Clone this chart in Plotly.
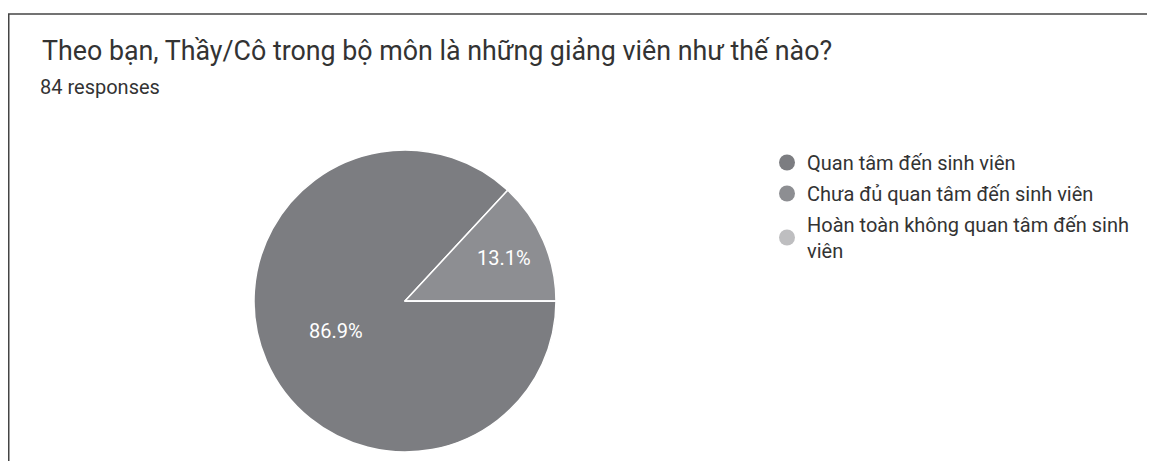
import plotly.graph_objects as go

labels = ["Quan tâm đến sinh viên",
          "Chưa đủ quan tâm đến sinh viên",
          "Hoàn toàn không quan tâm đến sinh<br>viên"]
values = [73, 11, 0]
colors = ["#7c7d81", "#8d8e92", "#bebec0"]
title_text = "Theo bạn, Thầy/Cô trong bộ môn là những giảng viên như thế nào?"
subtitle_text = "84 responses"

# page body has an 8px margin; figure coordinates are page coordinates minus 8
W, H = 1147, 453
FONT = "Roboto, Arial, sans-serif"

def px(x):
    return x / W

def py(y):
    return 1 - y / H

fig = go.Figure()
fig.add_trace(go.Pie(
    labels=labels, values=values, sort=False, direction="clockwise", rotation=90,
    marker=dict(colors=colors, line=dict(color="white", width=1.5)),
    texttemplate="%{percent:.1%}",
    textposition=["inside", "inside", "none"],
    insidetextorientation="horizontal",
    textfont=dict(family=FONT, size=20, color="white"),
    showlegend=False, hoverinfo="label+percent",
    domain=dict(x=[px(246), px(548)], y=[py(444), py(142)]),
))

for i, (lab, col) in enumerate(zip(labels, colors)):
    fig.add_trace(go.Scatter(
        x=[None], y=[None], mode="markers", name=lab, legendgroup=f"g{i}",
        marker=dict(symbol="circle", size=16, color=col),
    ))

fig.update_layout(
    width=W, height=H,
    margin=dict(l=0, r=0, t=0, b=0),
    paper_bgcolor="white", plot_bgcolor="white",
    xaxis=dict(visible=False), yaxis=dict(visible=False),
    legend=dict(x=px(759), y=py(135), xanchor="left", yanchor="top",
                font=dict(family=FONT, size=20, color="#333333"),
                tracegroupgap=2, itemwidth=30, bgcolor="rgba(0,0,0,0)"),
    annotations=[
        dict(text=title_text, x=px(32), y=py(43), xref="paper", yref="paper",
             xanchor="left", yanchor="middle", showarrow=False,
             font=dict(family=FONT, size=26.8, color="#333333")),
        dict(text=subtitle_text, x=px(30), y=py(79), xref="paper", yref="paper",
             xanchor="left", yanchor="middle", showarrow=False,
             font=dict(family=FONT, size=20, color="#333333")),
    ],
    shapes=[
        dict(type="line", xref="paper", yref="paper", x0=0, x1=1, y0=py(6), y1=py(6),
             line=dict(color="#444444", width=1.5)),
        dict(type="line", xref="paper", yref="paper", x0=px(0.75), x1=px(0.75), y0=py(6), y1=0,
             line=dict(color="#444444", width=1.5)),
    ],
)

fig.write_html("out.html")
